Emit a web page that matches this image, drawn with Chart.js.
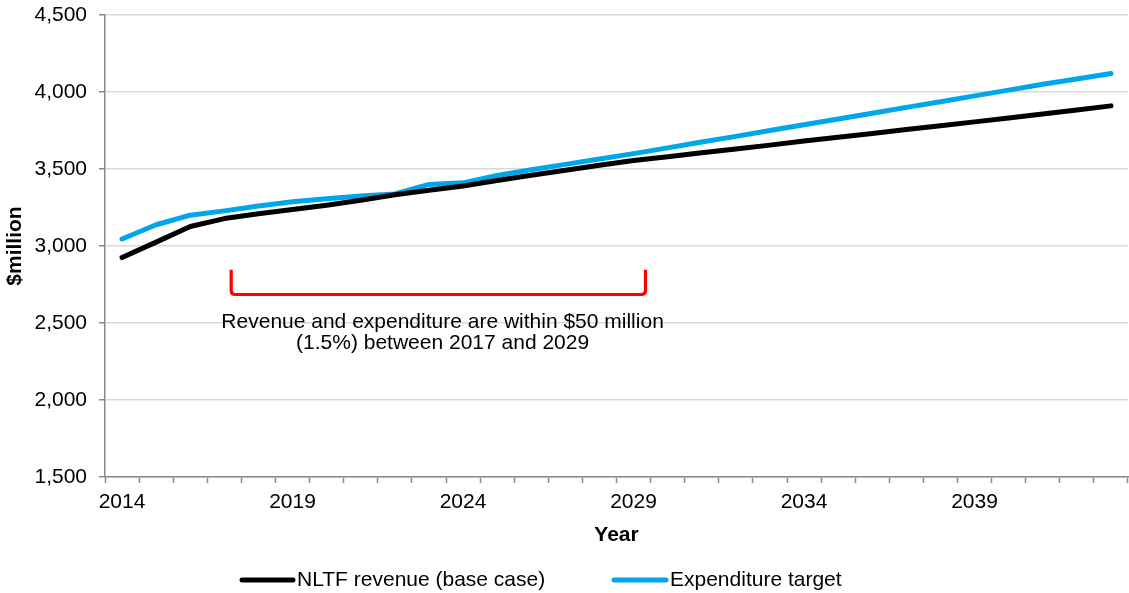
<!DOCTYPE html>
<html><head><meta charset="utf-8">
<script src="https://cdn.jsdelivr.net/npm/chart.js@4.4.1/dist/chart.umd.min.js"></script>
<style>html,body{margin:0;padding:0;background:#fff;}#wrap{width:1129px;height:593px;position:relative;}</style>
</head><body><div id="wrap"><canvas id="c" width="1129" height="593"></canvas></div>
<script>
const years = [2014,2015,2016,2017,2018,2019,2020,2021,2022,2023,2024,2025,2026,2027,2028,2029,2030,2031,2032,2033,2034,2035,2036,2037,2038,2039,2040,2041,2042,2043];
const revenue = [2925,3025,3127,3178,3210,3237,3265,3297,3333,3362,3390,3425,3460,3492,3524,3555,3580,3605,3630,3655,3682,3706,3731,3756,3781,3806,3831,3857,3883,3910];
const expenditure = [3045,3138,3200,3228,3260,3288,3307,3325,3338,3400,3410,3458,3495,3530,3565,3600,3637,3675,3712,3750,3787,3825,3862,3900,3937,3975,4012,4050,4085,4120];
const yTicks = [1500,2000,2500,3000,3500,4000,4500];
const labelYears = [2014,2019,2024,2029,2034,2039];
const seriesNames = ["NLTF revenue (base case)","Expenditure target"];
const seriesColors = ["#000000","#00A6EA"];
const bracketYears = [2017.2,2029.35];
const bracketValues = [2845,2685];
const noteLines = ["Revenue and expenditure are within $50 million","(1.5%) between 2017 and 2029"];
const noteYear = 2023.4;
const noteValues = [2507,2370];

const FONT = "'Liberation Sans', Arial, sans-serif";
const FS = 21;

const notePlugin = {
  id: 'note',
  afterDraw(chart) {
    const ctx = chart.ctx, xs = chart.scales.x, ys = chart.scales.y;
    const idx = y => y - years[0];
    const x1 = xs.getPixelForValue(idx(bracketYears[0])), x2 = xs.getPixelForValue(idx(bracketYears[1]));
    const yt = ys.getPixelForValue(bracketValues[0]), yb = ys.getPixelForValue(bracketValues[1]);
    const r = 4;
    ctx.save();
    ctx.strokeStyle = '#FF0000'; ctx.lineWidth = 3.2; ctx.lineJoin = 'round';
    ctx.beginPath();
    ctx.moveTo(x1, yt); ctx.lineTo(x1, yb - r); ctx.quadraticCurveTo(x1, yb, x1 + r, yb);
    ctx.lineTo(x2 - r, yb); ctx.quadraticCurveTo(x2, yb, x2, yb - r); ctx.lineTo(x2, yt);
    ctx.stroke();
    ctx.fillStyle = '#000'; ctx.font = FS + 'px ' + FONT; ctx.textAlign = 'center'; ctx.textBaseline = 'middle';
    const nx = xs.getPixelForValue(idx(noteYear));
    noteLines.forEach((t, i) => ctx.fillText(t, nx, ys.getPixelForValue(noteValues[i])));
    // legend
    const ly = 580;
    const items = [{sx: 240, sw: 55}, {sx: 612, sw: 56}];
    ctx.textAlign = 'left';
    items.forEach((it, i) => {
      ctx.beginPath();
      ctx.lineCap = 'round'; ctx.strokeStyle = seriesColors[i]; ctx.lineWidth = 5;
      ctx.moveTo(it.sx + 2, ly); ctx.lineTo(it.sx + it.sw - 2, ly); ctx.stroke();
      ctx.fillStyle = '#000';
      ctx.fillText(seriesNames[i], it.sx + it.sw + 2, ly);
    });
    ctx.restore();
  }
};

new Chart(document.getElementById('c'), {
  type: 'line',
  data: {
    labels: years.map(String),
    datasets: [
      {label: seriesNames[0], data: revenue, borderColor: seriesColors[0], backgroundColor: seriesColors[0], borderWidth: 5, pointRadius: 0, tension: 0, borderCapStyle: 'round', borderJoinStyle: 'round'},
      {label: seriesNames[1], data: expenditure, borderColor: seriesColors[1], backgroundColor: seriesColors[1], borderWidth: 5, pointRadius: 0, tension: 0, borderCapStyle: 'round', borderJoinStyle: 'round'}
    ]
  },
  options: {
    responsive: false, animation: false, devicePixelRatio: 1,
    layout: {padding: {left: 0, right: 1, top: 15, bottom: 42}},
    plugins: {legend: {display: false}, tooltip: {enabled: false}},
    scales: {
      x: {
        type: 'category', offset: true,
        grid: {display: true, drawOnChartArea: false, drawTicks: true, tickLength: 6, offset: true, tickColor: '#898989', tickWidth: 1.5},
        border: {color: '#898989', width: 1.5},
        ticks: {autoSkip: false, maxRotation: 0, padding: 7, color: '#000', font: {family: FONT, size: FS},
          callback: function(v, i) { const y = years[i]; return labelYears.includes(y) ? String(y) : ''; }},
        title: {display: true, text: 'Year', color: '#000', font: {family: FONT, size: FS, weight: 'bold'}, padding: {top: 4, bottom: 3}},
        afterFit: s => { s.height = 74; s.paddingLeft = 0; s.paddingRight = 0; }
      },
      y: {
        min: 1500, max: 4500,
        afterBuildTicks: s => { s.ticks = yTicks.map(v => ({value: v})); },
        grid: {color: '#D9D9D9', lineWidth: 1.5, tickLength: 6, tickColor: '#898989', tickWidth: 1.5},
        border: {color: '#898989', width: 1.5},
        ticks: {padding: 12, color: '#000', font: {family: FONT, size: FS}, callback: v => v.toLocaleString('en-US')},
        title: {display: true, text: '$million', color: '#000', font: {family: FONT, size: FS, weight: 'bold'}, padding: {top: 3, bottom: 2}},
        afterFit: s => { s.width = 105; s.paddingTop = 0; s.paddingBottom = 0; }
      }
    }
  },
  plugins: [notePlugin]
});
</script></body></html>
